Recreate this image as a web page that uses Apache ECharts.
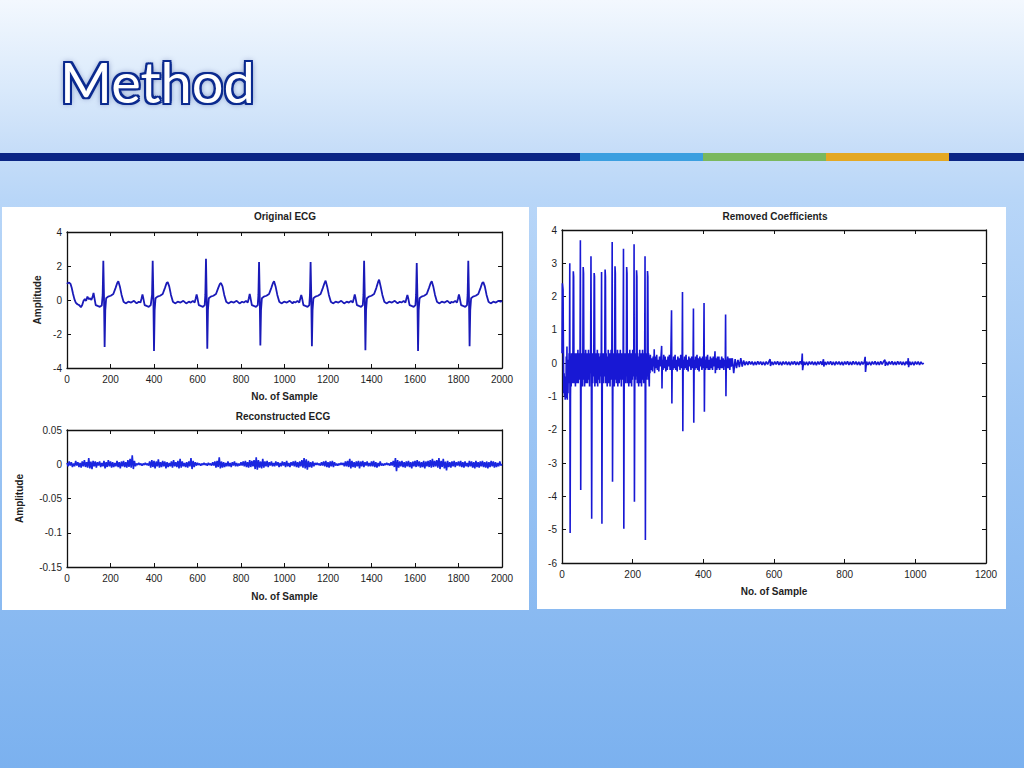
<!DOCTYPE html>
<html><head><meta charset="utf-8">
<script src="https://cdn.jsdelivr.net/npm/echarts/dist/echarts.min.js"></script>
<style>
html,body{margin:0;padding:0;width:1024px;height:768px;overflow:hidden}
body{position:relative;background:linear-gradient(to bottom,#f3f8fe 0px,#d9e9fb 90px,#c6ddf8 150px,#b8d6f8 200px,#9cc5f4 420px,#7bb1ef 768px)}
#title{position:absolute;left:60px;top:53px;font-family:Lato,"Open Sans",sans-serif;font-size:56px;line-height:57px;color:#fff;
text-shadow:-2px -2px 0 #0b2a8f,2px -2px 0 #0b2a8f,-2px 2px 0 #0b2a8f,2px 2px 0 #0b2a8f,0 2px 0 #0b2a8f,0 -2px 0 #0b2a8f,2px 0 0 #0b2a8f,-2px 0 0 #0b2a8f,0 0 6px rgba(5,25,110,.8)}
.bar{position:absolute;top:153px;height:8px}
.panel{position:absolute;background:#fff}
#c{position:absolute;left:0;top:0;width:1024px;height:768px}
</style>
</head><body>
<div id="title">Method</div>
<div class="bar" style="left:0;width:580px;background:#0b2584"></div>
<div class="bar" style="left:580px;width:123px;background:#3b9fe0"></div>
<div class="bar" style="left:703px;width:123px;background:#7ab85e"></div>
<div class="bar" style="left:826px;width:123px;background:#e4a823"></div>
<div class="bar" style="left:949px;width:75px;background:#0b2584"></div>
<div class="panel" style="left:2px;top:207px;width:527px;height:403px"></div>
<div class="panel" style="left:537px;top:207px;width:469px;height:402px"></div>
<div id="c"></div>
<script>
// ---------- Original ECG: [sample, amplitude] ----------
const ecgTail0 = [[0,0.95],[4,1.0],[10,1.02],[16,0.95],[22,0.7],[28,0.35],[34,0.05],[40,-0.15],[48,-0.25],[56,-0.3],[64,-0.42],[70,-0.3],[76,-0.05],[82,0.05],[88,-0.05],[94,0.2],[100,0.05],[106,0.1],[112,0.0]];
const ecgBeat1 = [[118,0.2],[122,0.42],[126,0.12],[132,-0.3],[141,-0.35],[151,-0.4],[160,-0.32],[164,0.3],[167,2.31],[170,0.3],[173,-2.77],[176,-0.6],[180,0.1],[189,0.2],[201,0.25],[213,0.35],[223,0.7],[231,1.0],[236,1.1],[243,0.8],[251,0.3],[260,-0.1],[270,-0.2],[282,-0.1],[295,-0.15],[308,-0.05],[320,-0.2]];
const ecgBeat2 = [[330,-0.1],[338,-0.15],[343,0.1],[347,0.32],[351,0.1],[357,-0.3],[366,-0.35],[376,-0.4],[385,-0.3],[391,0.3],[394,2.31],[397,0.3],[400,-3.0],[403,-0.6],[407,0.1],[416,0.2],[428,0.25],[440,0.35],[450,0.7],[458,1.0],[463,1.05],[470,0.8],[478,0.3],[487,-0.1],[497,-0.2],[509,-0.1],[522,-0.15],[535,-0.05],[548,-0.2],[560,-0.1]];
const ecgBeat3 = [[569,-0.15],[579,-0.05],[587,-0.15],[592,0.1],[596,0.33],[600,0.1],[606,-0.3],[615,-0.35],[625,-0.4],[633,-0.3],[636,0.3],[639,2.43],[642,0.3],[645,-2.86],[648,-0.6],[652,0.1],[661,0.2],[673,0.25],[685,0.35],[695,0.7],[703,0.95],[708,1.0],[715,0.8],[723,0.3],[732,-0.1],[742,-0.2],[754,-0.1],[767,-0.15],[780,-0.05],[793,-0.2],[805,-0.1]];
const ecgBeat4 = [[813,-0.15],[823,-0.05],[831,-0.15],[836,0.1],[840,0.35],[844,0.1],[850,-0.3],[859,-0.35],[869,-0.4],[877,-0.3],[880,0.3],[883,2.24],[886,0.3],[889,-2.67],[892,-0.6],[896,0.1],[905,0.2],[917,0.25],[929,0.35],[939,0.7],[947,1.0],[952,1.1],[959,0.8],[967,0.3],[976,-0.1],[986,-0.2],[998,-0.1],[1011,-0.15],[1024,-0.05],[1037,-0.2],[1042,-0.1]];
const ecgBeat5 = [[1050,-0.15],[1060,-0.05],[1068,-0.15],[1073,0.1],[1077,0.3],[1081,0.1],[1087,-0.3],[1096,-0.35],[1106,-0.4],[1114,-0.3],[1117,0.3],[1120,2.24],[1123,0.3],[1126,-2.72],[1129,-0.6],[1133,0.1],[1142,0.2],[1154,0.25],[1166,0.35],[1176,0.7],[1184,1.0],[1189,1.14],[1196,0.8],[1204,0.3],[1213,-0.1],[1223,-0.2],[1235,-0.1],[1248,-0.15],[1261,-0.05],[1274,-0.2],[1286,-0.1]];
const ecgBeat6 = [[1296,-0.15],[1306,-0.05],[1314,-0.15],[1319,0.1],[1323,0.32],[1327,0.1],[1333,-0.3],[1342,-0.35],[1352,-0.4],[1360,-0.3],[1363,0.3],[1366,2.31],[1369,0.3],[1372,-2.96],[1375,-0.6],[1379,0.1],[1388,0.2],[1400,0.25],[1412,0.35],[1422,0.7],[1430,1.05],[1435,1.2],[1442,0.8],[1450,0.3],[1459,-0.1],[1469,-0.2],[1481,-0.1],[1494,-0.15],[1507,-0.05],[1520,-0.2],[1530,-0.1]];
const ecgBeat7 = [[1538,-0.15],[1548,-0.05],[1556,-0.15],[1561,0.1],[1565,0.3],[1569,0.1],[1575,-0.3],[1584,-0.35],[1594,-0.4],[1602,-0.3],[1605,0.3],[1608,2.18],[1611,0.3],[1614,-3.0],[1617,-0.6],[1621,0.1],[1630,0.2],[1642,0.25],[1654,0.35],[1664,0.7],[1672,1.0],[1677,1.1],[1684,0.8],[1692,0.3],[1701,-0.1],[1711,-0.2],[1723,-0.1],[1736,-0.15],[1749,-0.05],[1762,-0.2],[1767,-0.1]];
const ecgBeat8 = [[1775,-0.15],[1785,-0.05],[1793,-0.15],[1798,0.1],[1802,0.33],[1806,0.1],[1812,-0.3],[1821,-0.35],[1831,-0.4],[1839,-0.3],[1842,0.3],[1845,2.31],[1848,0.3],[1851,-2.72],[1854,-0.6],[1858,0.1],[1867,0.2],[1879,0.25],[1891,0.35],[1901,0.7],[1909,1.0],[1914,1.05],[1921,0.8],[1929,0.3],[1938,-0.1],[1948,-0.2],[1960,-0.1],[1972,-0.15],[1984,-0.05],[1994,-0.1],[2000,-0.05]];

// ---------- Reconstructed ECG: amplitude in thousandths, one value every reconStep samples ----------
const reconStep = 5;
const reconMilli = [
 2,-3,4,-2,3,-4,1,-3,5,-2,3,-4,2,-5,4,-3,6,-4,3,-5,
 9,-6,4,-7,5,-3,4,-5,3,-2,4,-4,2,-3,5,-6,3,-4,6,-3,
 4,-5,3,-4,2,-3,5,-4,3,-6,4,-3,5,-4,3,-5,6,-4,8,-5,
 13,-7,5,-3,1,-1,2,-1,1,-2,1,-1,2,-1,1,-2,4,-5,6,-4,
 5,-6,4,-3,7,-5,3,-4,5,-3,4,-6,3,-4,2,-3,4,-5,6,-3,
 3,-4,5,-6,8,-5,4,-3,2,-4,3,-5,4,-3,9,-7,5,-4,3,-2,
 2,-1,1,-2,1,-1,2,-1,1,-2,2,-1,1,-2,3,-2,4,-5,5,-4,
 10,-6,4,-5,3,-4,2,-3,4,-3,2,-4,3,-2,4,-3,2,-3,1,-2,
 3,-2,4,-3,5,-4,3,-5,6,-4,5,-3,6,-7,10,-8,6,-5,4,-6,
 8,-5,4,-3,5,-4,3,-2,4,-3,2,-3,4,-2,3,-4,2,-3,4,-2,
 3,-4,5,-3,2,-4,3,-2,4,-3,5,-4,3,-5,4,-3,6,-5,9,-6,
 7,-8,5,-4,3,-5,4,-3,2,-1,2,-1,1,-2,3,-2,4,-3,5,-4,
 3,-5,4,-3,5,-4,3,-2,1,-2,1,-1,2,-1,2,-3,4,-3,5,-4,
 8,-6,5,-4,3,-5,4,-3,5,-6,4,-3,5,-4,3,-2,4,-3,2,-3,
 4,-3,5,-4,3,-5,2,-3,4,-2,1,-2,1,-1,2,-1,1,-2,3,-2,
 5,-4,9,-10,6,-5,4,-3,5,-4,3,-5,4,-3,5,-4,3,-6,4,-3,
 5,-4,6,-3,4,-5,3,-4,5,-6,4,-3,5,-4,6,-5,8,-4,5,-3,
 6,-5,9,-7,5,-4,8,-6,4,-9,5,-4,3,-5,4,-3,5,-4,3,-2,
 4,-3,5,-4,3,-5,4,-3,2,-4,5,-3,4,-5,3,-6,5,-4,3,-5,
 4,-3,5,-4,3,-5,4,-6,3,-4,5,-3,4,-5,3,-4,2,-3,4,-2,
 0];

// ---------- Removed coefficients ----------
// samples 0..250, one value per sample
const coefA = [
 0.3,2.4,2.3,2.2,0.5,-0.9,-0.3,-1.0,-0.6,-1.1,
 -0.4,-1.05,0.2,-1.0,0.5,-1.1,-0.2,-0.9,0.1,-0.6,
 0.3,-0.5,3.0,-5.1,-1.0,0.2,-0.7,0.3,-0.5,0.1,
 -0.6,0.4,2.76,2.6,-0.6,0.2,-0.5,0.3,-0.7,0.1,
 -0.4,0.3,-0.6,0.2,-0.5,0.4,-0.6,0.0,-0.3,0.3,
 -0.5,0.2,3.69,-3.81,-0.6,0.3,-0.4,0.2,-0.7,0.3,
 2.89,2.7,-0.5,0.3,-0.7,0.1,-0.4,0.4,-0.6,0.2,
 -0.3,0.3,-0.6,0.1,-0.5,0.4,-0.4,0.2,-0.7,0.3,
 -0.3,0.2,3.21,0.0,-4.67,-0.5,0.3,-0.6,0.2,-0.4,
 0.3,2.71,2.6,-0.7,0.2,-0.5,0.3,-0.6,0.1,-0.4,
 0.4,-0.7,0.2,-0.5,0.3,-0.3,0.2,-0.6,0.1,-0.4,
 0.3,-0.2,2.74,-4.82,-0.7,0.3,-0.5,0.2,-0.6,0.3,
 -0.4,0.2,2.81,2.6,-0.6,0.3,-0.5,0.2,-0.7,0.1,
 -0.4,0.4,-0.6,0.2,-0.3,0.3,-0.7,0.1,-0.5,0.4,
 -0.3,0.2,3.64,-3.56,-0.6,0.3,-0.5,0.2,-0.7,0.3,
 2.91,2.7,-0.5,0.3,-0.6,0.2,-0.4,0.4,-0.7,0.1,
 -0.3,0.3,-0.6,0.2,-0.5,0.4,-0.4,0.1,-0.7,0.3,
 -0.3,0.2,-0.5,0.3,3.44,-4.97,-0.6,0.3,-0.5,0.2,
 -0.6,0.3,-0.4,2.89,2.7,-0.6,0.2,-0.5,0.3,-0.7,
 0.1,-0.4,0.4,-0.6,0.2,-0.3,0.3,-0.7,0.2,-0.5,
 0.4,-0.3,0.2,-0.4,3.57,-4.16,-0.6,0.3,-0.5,0.2,
 -0.4,2.79,2.6,-0.6,0.3,-0.5,0.2,-0.7,0.1,-0.4,
 0.4,-0.6,0.2,-0.3,0.3,-0.7,0.1,-0.5,0.4,-0.3,
 0.2,-0.6,0.3,-0.4,0.2,3.21,-5.31,-0.6,0.3,-0.5,
 0.2,-0.4,2.77,2.6,-0.5,0.3,-0.4,-0.7,0.2,-0.3,
 0.25];
// samples 252..479 [sample, value]
const coefB = [[252,-0.2],[254,0.15],[256,-0.25],[258,0.2],[260,-0.1],[261,0.42],[262,-0.3],[264,0.2],[266,-0.15],[268,0.25],[270,-0.2],[272,0.1],[274,-0.25],[276,0.2],[278,-0.1],[280,0.15],[282,0.52],[283,-0.76],[284,0.1],[286,-0.2],[288,0.25],[290,-0.15],[292,0.2],[294,-0.25],[296,0.1],[298,-0.2],[300,0.2],[302,-0.1],[304,0.25],[306,-0.2],[308,0.15],[310,1.59],[311,-1.21],[312,0.1],[314,-0.2],[316,0.2],[318,-0.15],[320,0.25],[322,-0.2],[324,0.1],[326,-0.25],[328,0.2],[330,-0.1],[332,0.15],[334,-0.2],[336,0.25],[338,-0.15],[340,0.1],[341,2.14],[342,-2.04],[343,0.1],[345,-0.2],[347,0.2],[349,-0.15],[351,0.25],[353,-0.2],[355,0.1],[357,-0.25],[359,0.2],[361,-0.1],[363,0.15],[365,-0.2],[367,0.2],[369,-0.15],[371,0.1],[372,1.64],[373,-1.79],[374,0.1],[376,-0.2],[378,0.2],[380,-0.15],[382,0.25],[384,-0.2],[386,0.15],[388,-0.25],[390,0.2],[392,-0.1],[394,0.15],[396,-0.2],[398,0.2],[400,-0.15],[401,0.1],[402,1.81],[403,-1.46],[404,0.1],[406,-0.2],[408,0.2],[410,-0.15],[412,0.25],[414,-0.2],[416,0.1],[418,-0.2],[420,0.2],[422,-0.15],[424,0.15],[426,-0.2],[428,0.2],[430,-0.1],[432,0.15],[433,0.36],[434,-0.3],[436,0.15],[438,-0.2],[440,0.2],[442,-0.15],[444,0.2],[446,-0.2],[448,0.1],[450,-0.15],[452,0.2],[454,-0.15],[456,0.15],[458,-0.2],[460,0.1],[462,-0.1],[463,1.46],[464,-0.99],[465,0.1],[467,-0.15],[469,0.2],[471,-0.15],[473,0.15],[475,-0.2],[477,0.15],[479,-0.1]];
// samples 482..1024 [sample, value]
const coefC = [[482,0.15],[486,-0.3],[490,0.12],[494,-0.15],[498,0.1],[502,-0.12],[506,0.15],[510,-0.1],[514,0.08],[518,-0.06],[522,0.05],[526,-0.05],[530,0.06],[534,-0.04],[538,0.05],[542,-0.06],[546,0.04],[550,-0.05],[554,0.06],[558,-0.04],[562,0.05],[566,-0.05],[570,0.04],[574,-0.06],[578,0.05],[582,-0.04],[586,0.06],[589,0.12],[590,-0.08],[594,0.04],[598,-0.05],[602,0.05],[606,-0.04],[610,0.06],[614,-0.05],[618,0.04],[622,-0.06],[626,0.05],[630,-0.04],[634,0.05],[638,-0.05],[642,0.04],[646,-0.06],[650,0.05],[654,-0.04],[658,0.06],[662,-0.05],[666,0.04],[670,-0.05],[674,0.06],[678,-0.04],[680,0.29],[681,-0.21],[684,0.05],[688,-0.05],[692,0.04],[696,-0.06],[700,0.05],[704,-0.04],[708,0.05],[712,-0.05],[716,0.04],[720,-0.06],[724,0.05],[728,-0.04],[732,0.06],[736,-0.05],[740,0.12],[741,-0.1],[744,0.04],[748,-0.05],[752,0.05],[756,-0.04],[760,0.06],[764,-0.05],[768,0.04],[772,-0.06],[776,0.05],[780,-0.04],[784,0.05],[788,-0.05],[792,0.04],[796,-0.06],[800,0.05],[804,-0.04],[808,0.06],[812,-0.05],[816,0.04],[820,-0.05],[824,0.06],[828,-0.04],[832,0.05],[836,-0.05],[840,0.04],[844,-0.06],[848,0.05],[852,-0.04],[856,0.06],[858,0.19],[859,-0.26],[862,0.05],[866,-0.05],[870,0.04],[874,-0.06],[878,0.05],[882,-0.04],[886,0.06],[890,-0.05],[894,0.04],[898,-0.05],[902,0.06],[906,-0.04],[910,0.05],[914,0.1],[915,-0.08],[918,0.04],[922,-0.06],[926,0.05],[930,-0.04],[934,0.06],[938,-0.05],[942,0.04],[946,-0.05],[950,0.06],[954,-0.04],[958,0.05],[962,-0.05],[966,0.04],[970,-0.06],[974,0.05],[978,-0.04],[980,0.15],[981,-0.12],[984,0.05],[988,-0.05],[992,0.04],[996,-0.06],[1000,0.05],[1004,-0.04],[1008,0.05],[1012,-0.05],[1016,0.04],[1020,-0.03],[1024,0.0]];

// ---------- Texts ----------
const titles = ['Original ECG','Reconstructed ECG','Removed Coefficients'];
const xName = 'No. of Sample';
const yName = 'Amplitude';

// ---------- build ----------
const ecgData = [].concat(ecgTail0,ecgBeat1,ecgBeat2,ecgBeat3,ecgBeat4,ecgBeat5,ecgBeat6,ecgBeat7,ecgBeat8);
const reconData = reconMilli.map((v,i)=>[i*reconStep, v/1000]);
const coefData = coefA.map((v,i)=>[i,v]).concat(coefB,coefC);

const FONT = '"Liberation Sans", Arial, sans-serif';
const INK = '#1e1e1e';
const plain = v => String(+v.toFixed(4));
function ax(extra){
  return Object.assign({
    type:'value',
    axisLine:{show:true,onZero:false,lineStyle:{color:'#111',width:1.3}},
    axisTick:{show:true,inside:true,length:4,lineStyle:{color:'#111',width:1}},
    splitLine:{show:false},
    axisLabel:{color:INK,fontSize:10,fontFamily:FONT,margin:6,formatter:plain}
  }, extra);
}
const noLab = {show:false};
const yLab = {color:INK,fontSize:10,fontFamily:FONT,margin:5,formatter:plain};
const nameStyle = {color:INK,fontSize:10,fontWeight:'bold',fontFamily:FONT};

const option = {
  animation:false,
  grid:[
    {left:67,top:232,width:435,height:136},
    {left:67,top:430,width:435,height:137},
    {left:562,top:230,width:424,height:333}
  ],
  xAxis:[
    ax({gridIndex:0,position:'bottom',min:0,max:2000,interval:200,name:xName,nameLocation:'middle',nameGap:23,nameTextStyle:nameStyle}),
    ax({gridIndex:0,position:'top',min:0,max:2000,interval:200,axisLabel:noLab}),
    ax({gridIndex:1,position:'bottom',min:0,max:2000,interval:200,name:xName,nameLocation:'middle',nameGap:24,nameTextStyle:nameStyle}),
    ax({gridIndex:1,position:'top',min:0,max:2000,interval:200,axisLabel:noLab}),
    ax({gridIndex:2,position:'bottom',min:0,max:1200,interval:200,name:xName,nameLocation:'middle',nameGap:23,nameTextStyle:nameStyle}),
    ax({gridIndex:2,position:'top',min:0,max:1200,interval:200,axisLabel:noLab})
  ],
  yAxis:[
    ax({gridIndex:0,position:'left',min:-4,max:4,interval:2,name:yName,nameLocation:'middle',nameRotate:90,nameGap:25,nameTextStyle:nameStyle,axisLabel:yLab}),
    ax({gridIndex:0,position:'right',min:-4,max:4,interval:2,axisLabel:noLab}),
    ax({gridIndex:1,position:'left',min:-0.15,max:0.05,interval:0.05,name:yName,nameLocation:'middle',nameRotate:90,nameGap:43,nameTextStyle:nameStyle,axisLabel:yLab}),
    ax({gridIndex:1,position:'right',min:-0.15,max:0.05,interval:0.05,axisLabel:noLab}),
    ax({gridIndex:2,position:'left',min:-6,max:4,interval:1,axisLabel:yLab}),
    ax({gridIndex:2,position:'right',min:-6,max:4,interval:1,axisLabel:noLab})
  ],
  graphic:[
    {type:'text',x:285,y:216,style:{text:titles[0],fill:INK,font:'bold 10px '+FONT,align:'center',verticalAlign:'middle',textAlign:'center',textVerticalAlign:'middle'}},
    {type:'text',x:283,y:416,style:{text:titles[1],fill:INK,font:'bold 10px '+FONT,align:'center',verticalAlign:'middle',textAlign:'center',textVerticalAlign:'middle'}},
    {type:'text',x:775,y:216,style:{text:titles[2],fill:INK,font:'bold 10px '+FONT,align:'center',verticalAlign:'middle',textAlign:'center',textVerticalAlign:'middle'}}
  ],
  series:[
    {type:'line',xAxisIndex:0,yAxisIndex:0,data:ecgData,symbol:'none',lineStyle:{color:'#1a1ab8',width:1.8}},
    {type:'line',xAxisIndex:2,yAxisIndex:2,data:reconData,symbol:'none',lineStyle:{color:'#1a26e0',width:1.6}},
    {type:'line',xAxisIndex:4,yAxisIndex:4,data:coefData,symbol:'none',lineStyle:{color:'#1818d4',width:1.6}}
  ]
};
const chart = echarts.init(document.getElementById('c'), null, {renderer:'svg'});
chart.setOption(option);
</script>
</body></html>
